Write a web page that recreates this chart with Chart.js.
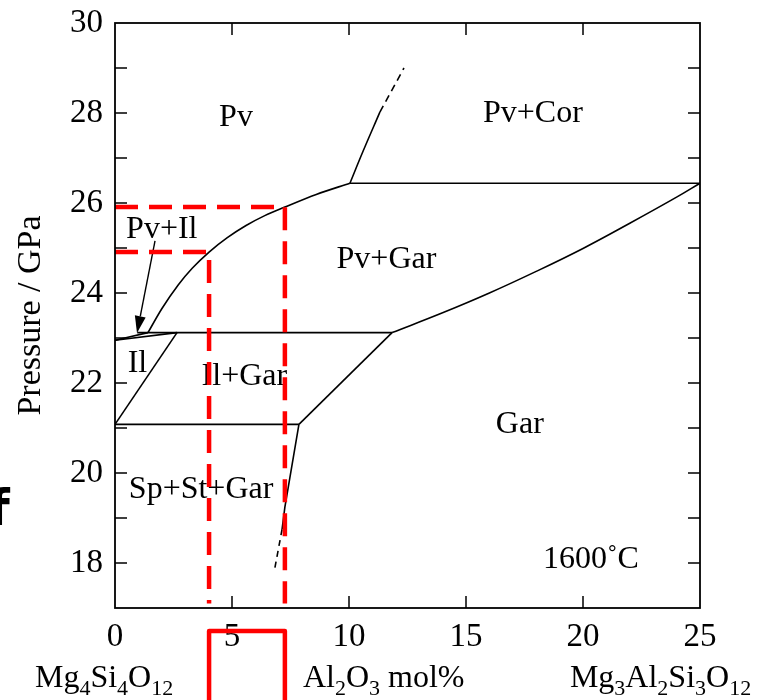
<!DOCTYPE html>
<html>
<head>
<meta charset="utf-8">
<style>
html,body{margin:0;padding:0;background:#fff;}
#c{display:block;}
</style>
<script src="https://cdn.jsdelivr.net/npm/chart.js@4/dist/chart.umd.min.js"></script>
</head>
<body>
<canvas id="c" width="769" height="700" style="width:769px;height:700px"></canvas>
<script>
// ---- axis data ----
const xTickValues = [0, 5, 10, 15, 20, 25];
const yTickLabels = ['18', '20', '22', '24', '26', '28', '30'];

// ---- phase boundaries (Al2O3 mol%, pressure GPa) ----
const pvBoundX = [1.41, 2.0, 2.7, 3.3, 4.02, 4.8, 5.6, 6.4, 7.26, 8.6, 10.04];
const pvBoundY = [23.12, 23.65, 24.18, 24.55, 24.91, 25.23, 25.5, 25.72, 25.91, 26.19, 26.44];
const corSolidX = [10.04, 10.6, 11.32];
const corSolidY = [26.44, 27.15, 28.02];
const corDashX = [11.32, 12.35];
const corDashY = [28.02, 29.0];
const upperFlatX = [10.04, 25];
const upperFlatY = [26.44, 26.44];
const garCurveX = [11.84, 14, 16, 18, 20, 22, 24, 25];
const garCurveY = [23.12, 23.56, 24.0, 24.48, 24.99, 25.55, 26.13, 26.44];
const midFlatX = [0.95, 11.84];
const midFlatY = [23.12, 23.12];
const sliverUpX = [0, 1.41];
const sliverUpY = [22.95, 23.12];
const sliverLowX = [0, 2.65];
const sliverLowY = [22.95, 23.12];
const ilBoundX = [0, 2.65];
const ilBoundY = [21.08, 23.12];
const lowFlatX = [0, 7.86];
const lowFlatY = [21.08, 21.08];
const ilGarX = [7.86, 11.84];
const ilGarY = [21.08, 23.12];
const spSolidX = [7.86, 7.26, 7.14];
const spSolidY = [21.08, 19.24, 18.75];
const spDashX = [7.14, 6.8];
const spDashY = [18.75, 17.8];

// ---- red highlight lines ----
const redOuterX = [0, 7.26, 7.26];
const redOuterY = [25.91, 25.91, 17.1];
const redInnerX = [0, 4.02, 4.02];
const redInnerY = [24.91, 24.91, 17.1];

// ---- region labels ----
const regionNames = ['Pv', 'Pv+Cor', 'Pv+Il', 'Pv+Gar', 'Il', 'Il+Gar', 'Gar', 'Sp+St+Gar', '1600\u02DAC'];
const regionX = [5.17, 17.86, 2.0, 11.6, 0.96, 5.53, 17.3, 3.68, 20.34];
const regionY = [27.71, 27.8, 25.22, 24.56, 22.24, 21.96, 20.89, 19.44, 17.89];
const arrowFrom = [1.71, 25.16];
const arrowTo = [0.94, 23.11];

const pts = (xs, ys) => xs.map((v, i) => ({x: v, y: ys[i]}));
const SERIF = '"Liberation Serif", "Times New Roman", serif';

function blackLine(xs, ys, opts) {
  return Object.assign({
    data: pts(xs, ys), showLine: true, borderColor: '#000', borderWidth: 1.6,
    pointRadius: 0, fill: false, tension: 0, order: 1
  }, opts || {});
}
function redLine(xs, ys) {
  return {
    data: pts(xs, ys), showLine: true, borderColor: '#ff0000', borderWidth: 4.5,
    borderDash: [23, 11], pointRadius: 0, fill: false, tension: 0, order: 0,
    borderCapStyle: 'butt', borderJoinStyle: 'miter'
  };
}

const datasets = [
  redLine(redOuterX, redOuterY),
  redLine(redInnerX, redInnerY),
  blackLine(pvBoundX, pvBoundY, {cubicInterpolationMode: 'monotone'}),
  blackLine(corSolidX, corSolidY, {tension: 0.4}),
  blackLine(corDashX, corDashY, {borderDash: [7, 5]}),
  blackLine(upperFlatX, upperFlatY),
  blackLine(garCurveX, garCurveY, {tension: 0.4}),
  blackLine(midFlatX, midFlatY),
  blackLine(sliverUpX, sliverUpY),
  blackLine(sliverLowX, sliverLowY),
  blackLine(ilBoundX, ilBoundY),
  blackLine(lowFlatX, lowFlatY),
  blackLine(ilGarX, ilGarY),
  blackLine(spSolidX, spSolidY),
  blackLine(spDashX, spDashY, {borderDash: [6, 5]})
];

function drawRich(ctx, parts, x, baseline) {
  let cx = x;
  parts.forEach(([t, sub]) => {
    ctx.font = sub ? '22px ' + SERIF : '32px ' + SERIF;
    ctx.fillText(t, cx, baseline + (sub ? 8 : 0));
    cx += ctx.measureText(t).width;
  });
}

const overlay = {
  id: 'overlay',
  beforeDatasetsDraw(chart) {
    const {ctx, scales: {x, y}} = chart;
    ctx.save();
    ctx.fillStyle = '#000';
    ctx.textAlign = 'center';
    ctx.textBaseline = 'alphabetic';
    ctx.font = '32px ' + SERIF;
    regionNames.forEach((t, i) => {
      ctx.fillText(t, x.getPixelForValue(regionX[i]), y.getPixelForValue(regionY[i]));
    });
    // arrow
    const x0 = x.getPixelForValue(arrowFrom[0]), y0 = y.getPixelForValue(arrowFrom[1]);
    const x1 = x.getPixelForValue(arrowTo[0]), y1 = y.getPixelForValue(arrowTo[1]);
    const ang = Math.atan2(y1 - y0, x1 - x0);
    const hl = 17, hw = 5.5;
    const bx = x1 - hl * Math.cos(ang), by = y1 - hl * Math.sin(ang);
    ctx.strokeStyle = '#000';
    ctx.lineWidth = 1.4;
    ctx.beginPath(); ctx.moveTo(x0, y0); ctx.lineTo(bx, by); ctx.stroke();
    ctx.beginPath();
    ctx.moveTo(x1, y1);
    ctx.lineTo(bx + hw * Math.sin(ang), by - hw * Math.cos(ang));
    ctx.lineTo(bx - hw * Math.sin(ang), by + hw * Math.cos(ang));
    ctx.closePath(); ctx.fill();
    ctx.restore();
  },
  afterDraw(chart) {
    const {ctx, chartArea: a, scales: {x, y}} = chart;
    ctx.save();
    // frame
    ctx.strokeStyle = '#000';
    ctx.lineWidth = 1.8;
    ctx.strokeRect(a.left, a.top, a.right - a.left, a.bottom - a.top);
    // inward ticks
    ctx.lineWidth = 1.5;
    const tl = 12;
    ctx.beginPath();
    y.ticks.forEach(t => {
      if (t.value <= y.min || t.value >= y.max) return;
      const py = y.getPixelForValue(t.value);
      ctx.moveTo(a.left, py); ctx.lineTo(a.left + tl, py);
      ctx.moveTo(a.right, py); ctx.lineTo(a.right - tl, py);
    });
    x.ticks.forEach(t => {
      if (t.value <= x.min || t.value >= x.max) return;
      const px = x.getPixelForValue(t.value);
      ctx.moveTo(px, a.bottom); ctx.lineTo(px, a.bottom - tl);
      ctx.moveTo(px, a.top); ctx.lineTo(px, a.top + tl);
    });
    ctx.stroke();
    // composition labels
    ctx.fillStyle = '#000';
    ctx.textAlign = 'left';
    ctx.textBaseline = 'alphabetic';
    const base = a.bottom + 79;
    drawRich(ctx, [['Mg', 0], ['4', 1], ['Si', 0], ['4', 1], ['O', 0], ['12', 1]], x.getPixelForValue(-3.42), base);
    drawRich(ctx, [['Al', 0], ['2', 1], ['O', 0], ['3', 1], [' mol%', 0]], x.getPixelForValue(8.03), base);
    drawRich(ctx, [['Mg', 0], ['3', 1], ['Al', 0], ['2', 1], ['Si', 0], ['3', 1], ['O', 0], ['12', 1]], x.getPixelForValue(19.44), base);
    // red box below axis
    const rl = x.getPixelForValue(redInnerX[1]), rr = x.getPixelForValue(redOuterX[1]);
    const rt = a.bottom + 23;
    ctx.strokeStyle = '#ff0000';
    ctx.lineWidth = 4.5;
    ctx.lineJoin = 'round';
    ctx.beginPath();
    ctx.moveTo(rl, chart.height + 5); ctx.lineTo(rl, rt); ctx.lineTo(rr, rt); ctx.lineTo(rr, chart.height + 5);
    ctx.stroke();
    // stray panel letter at the left edge
    ctx.fillStyle = '#000';
    ctx.font = 'bold 50px "DejaVu Sans", sans-serif';
    ctx.fillText('f', -12, 525);
    ctx.restore();
  }
};

new Chart(document.getElementById('c'), {
  type: 'scatter',
  data: {datasets},
  options: {
    responsive: false,
    animation: false,
    events: [],
    layout: {padding: {top: 23, right: 69, left: 0, bottom: 0}},
    plugins: {legend: {display: false}, tooltip: {enabled: false}},
    scales: {
      x: {
        type: 'linear', min: 0, max: 25,
        afterBuildTicks: s => { s.ticks = xTickValues.map(v => ({value: v})); },
        ticks: {font: {family: SERIF, size: 33}, color: '#000', padding: 10, maxRotation: 0, autoSkip: false},
        grid: {display: false, drawTicks: false},
        border: {display: false},
        afterFit: s => { s.height = 92; s.paddingLeft = 0; s.paddingRight = 0; }
      },
      y: {
        type: 'linear', min: 17, max: 30,
        ticks: {
          stepSize: 1, autoSkip: false,
          callback: v => yTickLabels.includes(String(v)) ? String(v) : '',
          font: {family: SERIF, size: 33}, color: '#000', padding: 12
        },
        grid: {display: false, drawTicks: false},
        border: {display: false},
        title: {display: true, text: 'Pressure / GPa', font: {family: SERIF, size: 34}, color: '#000', padding: {top: 11, bottom: 0}},
        afterFit: s => { s.width = 115; s.paddingTop = 0; s.paddingBottom = 0; }
      }
    }
  },
  plugins: [overlay]
});
</script>
</body>
</html>
